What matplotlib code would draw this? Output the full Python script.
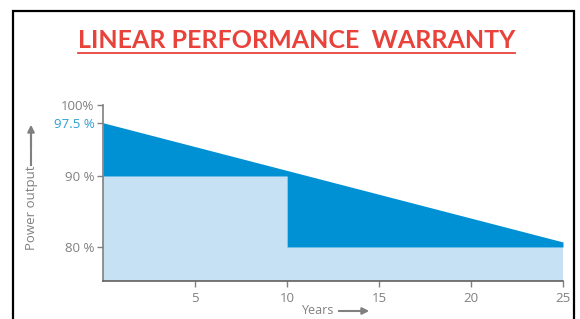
import numpy as np
import matplotlib
matplotlib.use('Agg')
import matplotlib.pyplot as plt
from matplotlib.patches import Rectangle

# Data
warranty_years = [0, 25]
linear_output = [97.5, 80.7]      # linear guarantee (%)
step_years = [0, 10, 10, 25]
step_output = [90, 90, 80, 80]    # standard step guarantee (%)
y_ticks = [80, 90, 97.5, 100]
y_labels = ['80 %', '90 %', '97.5 %', '100%']
x_ticks = [5, 10, 15, 20, 25]

dark_blue = '#0091d5'
light_blue = '#c6e0f4'
grey = '#808080'
red = '#e8423b'

plt.rcParams['font.family'] = ['Open Sans', 'DejaVu Sans']

fig = plt.figure(figsize=(5.8, 3.19), dpi=100)
ax = fig.add_axes([103/580, 1 - 281/319, 460/580, (281 - 105)/319])

y_min = 75.2
x_arr = np.array(step_years, dtype=float)
upper = np.interp(x_arr, warranty_years, linear_output)
lower = np.array(step_output, dtype=float)

ax.fill_between(x_arr, y_min, lower, color=light_blue, lw=0)
ax.fill_between(x_arr, lower, upper, color=dark_blue, lw=0)
ax.axhline(80, color='#a8cdea', lw=0.8, zorder=0.5)

ax.set_xlim(0, 25)
ax.set_ylim(y_min, 100)
ax.set_xticks(x_ticks)
ax.set_yticks(y_ticks)
ax.set_yticklabels(y_labels)
ax.tick_params(axis='both', colors=grey, labelsize=9.5, length=4, width=1)
ax.tick_params(axis='x', pad=4)
ax.tick_params(axis='y', pad=2)
for lbl in ax.get_yticklabels():
    if lbl.get_text() == '97.5 %':
        lbl.set_color('#2aa0d2')

for s in ['top', 'right']:
    ax.spines[s].set_visible(False)
ax.spines['left'].set_color(grey)
ax.spines['bottom'].set_color('#606060')
ax.spines['left'].set_linewidth(1.2)
ax.spines['bottom'].set_linewidth(1.2)

# title
fig.text(297/580, 1 - 40/319, 'LINEAR PERFORMANCE  WARRANTY', color=red,
         fontsize=18, fontweight='bold', ha='center', va='center',
         family=['Lato', 'DejaVu Sans'])
fig.add_artist(plt.Line2D([78/580, 515/580], [1 - 53/319, 1 - 53/319],
                          color=red, lw=1.3))

# axis labels with arrows
fig.text(31/580, 1 - 208/319, 'Power output', rotation=90, color=grey,
         fontsize=9.5, ha='center', va='center')
fig.add_artist(plt.Line2D([31/580, 31/580], [1 - 165/319, 1 - 132/319], color=grey, lw=1.5))
ax.annotate('', xy=(31/580, 1 - 122/319), xytext=(31/580, 1 - 150/319),
            xycoords='figure fraction', textcoords='figure fraction',
            arrowprops=dict(arrowstyle='-|>', color=grey, lw=1.5, mutation_scale=10))
fig.text(318/580, 1 - 311/319, 'Years', color=grey, fontsize=9,
         ha='center', va='center')
ax.annotate('', xy=(372/580, 1 - 311/319), xytext=(336/580, 1 - 311/319),
            xycoords='figure fraction', textcoords='figure fraction',
            arrowprops=dict(arrowstyle='-|>', color=grey, lw=1.5, mutation_scale=10))

# frame around the slide
fig.add_artist(Rectangle((13/580, -0.1), (574 - 13)/580, 1.1 - 11/319,
                         transform=fig.transFigure, fill=False,
                         edgecolor='black', lw=1.6))

fig.savefig('out.png', dpi=100)
